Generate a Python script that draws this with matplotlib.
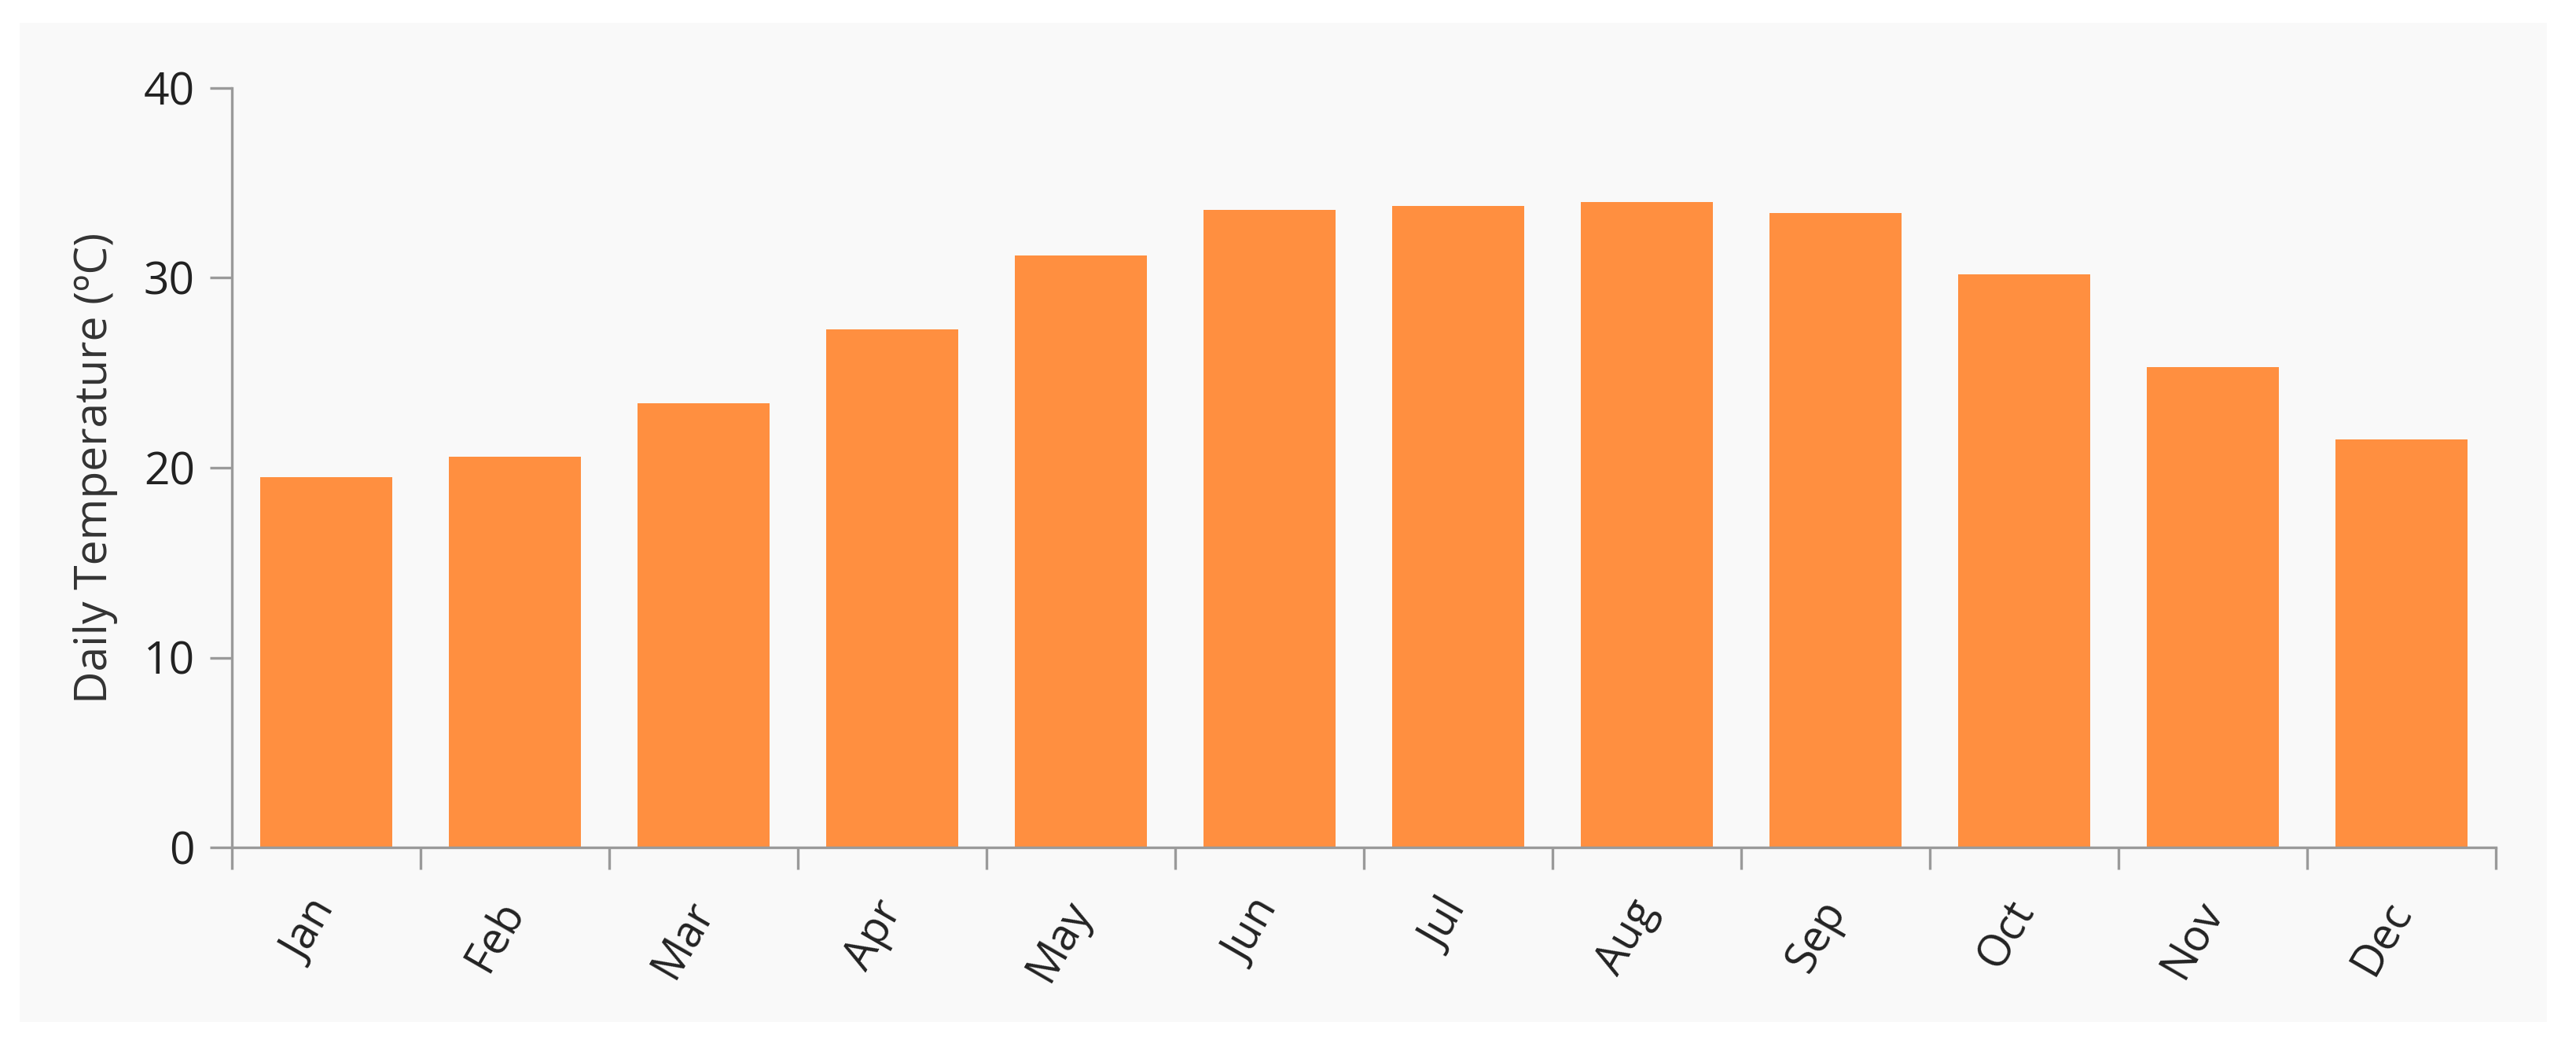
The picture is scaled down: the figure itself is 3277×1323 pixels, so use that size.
import matplotlib
matplotlib.use("Agg")
import matplotlib.pyplot as plt
from matplotlib.patches import Rectangle
import numpy as np

months = ["Jan", "Feb", "Mar", "Apr", "May", "Jun", "Jul", "Aug", "Sep", "Oct", "Nov", "Dec"]
temps = [19.5, 20.6, 23.4, 27.3, 31.2, 33.6, 33.8, 34.0, 33.4, 30.2, 25.3, 21.5]
yticks = [0, 10, 20, 30, 40]
ylabel = "Daily Temperature (ºC)"

plt.rcParams['font.family'] = ['Open Sans', 'DejaVu Sans']

W, H = 3277, 1323
dpi = 100
fig = plt.figure(figsize=(W / dpi, H / dpi), dpi=dpi)
fig.patch.set_facecolor('white')

# panel background
bg = Rectangle((25 / W, 1 - 1300 / H), (3240 - 25) / W, (1300 - 29) / H,
               transform=fig.transFigure, facecolor='#f9f9f9',
               edgecolor='none', zorder=-10)
fig.add_artist(bg)

left, right = 295 / W, 3175 / W
bottom, top = 1 - 1078 / H, 1 - 112 / H
ax = fig.add_axes([left, bottom, right - left, top - bottom])
ax.set_zorder(5)
ax.set_facecolor('none')

x = np.arange(len(months))
ax.bar(x, temps, width=0.7, color='#ff8f40', zorder=2)

ax.set_xlim(-0.5, len(months) - 0.5)
ax.set_ylim(0, 40)

axis_color = '#9a9a9a'
for s in ['top', 'right']:
    ax.spines[s].set_visible(False)
for s in ['left', 'bottom']:
    ax.spines[s].set_color(axis_color)
    ax.spines[s].set_linewidth(2.4)

ax.set_yticks(yticks)
ax.set_yticklabels([str(v) for v in yticks])
ax.tick_params(axis='y', length=20, width=2.4, color=axis_color, labelsize=41,
               labelcolor='#222222', pad=14)

ax.set_xticks(x)
ax.set_xticklabels(months, rotation=60, ha='right', va='center', rotation_mode='anchor')
ax.tick_params(axis='x', which='major', length=0, labelsize=40, labelcolor='#222222', pad=52)
ax.set_xticks(np.arange(-0.5, len(months), 1.0), minor=True)
ax.tick_params(axis='x', which='minor', length=20, width=2.4, color=axis_color)

ax.set_ylabel(ylabel, fontsize=41, color='#333333')
ax.yaxis.set_label_coords((150 - 295) / (3175 - 295), 0.5)

fig.savefig("out.png", dpi=dpi, facecolor='white')
